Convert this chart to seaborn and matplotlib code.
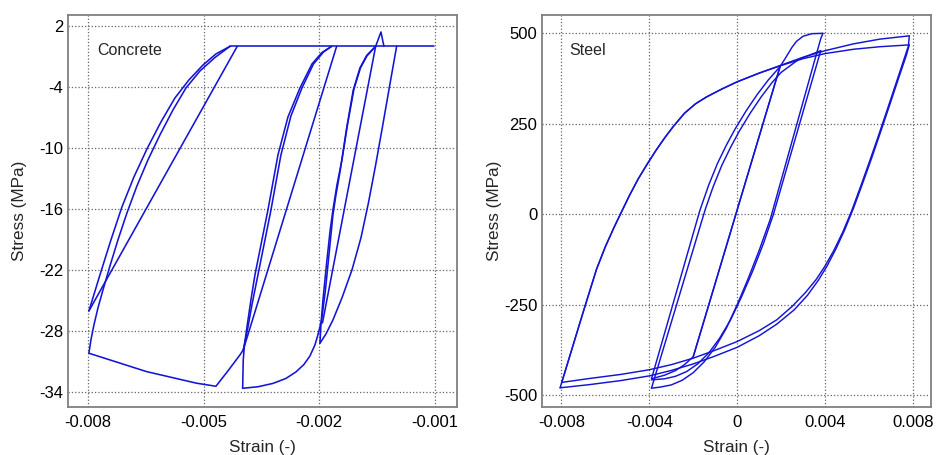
import numpy as np
import pandas as pd
import seaborn as sns
import matplotlib.pyplot as plt

# ---- concrete strokes (strain, stress MPa) ----
top_line = [(-0.005135, 0.0), (-0.00102, 0.0)]
spike = [(-0.002196, 0.0), (-0.002089, 1.41), (-0.002029, 0.0)]
c1 = [(-0.007980, -26.03), (-0.007758, -22.49), (-0.007536, -19.05), (-0.007314, -15.80),
      (-0.007072, -12.85), (-0.00681, -10.10), (-0.006527, -7.44), (-0.006245, -5.08),
      (-0.005963, -3.31), (-0.00568, -1.84), (-0.005418, -0.75), (-0.005135, 0.0)]
c2 = [(-0.007980, -30.19), (-0.00794, -28.89), (-0.007879, -27.41), (-0.007798, -25.74),
      (-0.007697, -23.97), (-0.007556, -21.61), (-0.007395, -19.05), (-0.007213, -16.39),
      (-0.007012, -13.74), (-0.00679, -11.18), (-0.006548, -8.72), (-0.006285, -6.26),
      (-0.006023, -4.10), (-0.005741, -2.43), (-0.005438, -1.10), (-0.005135, 0.0)]
s1 = [(-0.004988, 0.0), (-0.007980, -26.03)]
b1 = [(-0.007980, -30.19), (-0.006816, -32.00), (-0.005807, -33.14), (-0.005418, -33.44),
      (-0.005176, -31.93), (-0.004934, -30.36), (-0.004867, -29.87)]
d1 = [(-0.004867, -29.87), (-0.004782, -27.90), (-0.004692, -25.44), (-0.004591, -22.98),
      (-0.004429, -19.05), (-0.004308, -16.10), (-0.004107, -10.69), (-0.003905, -6.85),
      (-0.003683, -4.10), (-0.003451, -1.74), (-0.003249, -0.56), (-0.003084, 0.0)]
d2 = [(-0.004879, -33.64), (-0.004867, -30.85), (-0.004843, -29.38), (-0.004792, -27.61),
      (-0.004712, -24.95), (-0.004631, -22.49), (-0.00449, -19.05), (-0.004369, -16.10),
      (-0.004167, -10.69), (-0.003965, -6.95), (-0.003723, -4.10), (-0.003481, -1.74),
      (-0.00328, -0.61), (-0.003084, 0.0)]
s2 = [(-0.002983, 0.0), (-0.004867, -29.87)]
b2 = [(-0.004879, -33.64), (-0.004571, -33.49), (-0.004268, -33.16), (-0.004006, -32.67),
      (-0.003804, -32.03), (-0.003643, -31.30), (-0.003522, -30.46), (-0.003421, -29.38),
      (-0.00335, -28.20), (-0.003286, -26.92), (-0.003209, -23.97), (-0.003128, -20.03),
      (-0.003058, -16.59), (-0.002997, -14.62), (-0.002916, -12.36), (-0.002781, -8.03),
      (-0.002648, -4.30), (-0.002513, -2.13), (-0.002378, -0.90), (-0.002196, 0.0)]
e1 = [(-0.00332, -29.21), (-0.0033, -27.41), (-0.003259, -24.95), (-0.003189, -21.51),
      (-0.003118, -18.26), (-0.003058, -16.10), (-0.002977, -13.64), (-0.002876, -11.18),
      (-0.002765, -7.74), (-0.002634, -4.20), (-0.002503, -2.13), (-0.002372, -0.95),
      (-0.002196, 0.0)]
s3 = [(-0.002196, 0.0), (-0.003269, -27.21)]
f3 = [(-0.001773, 0.0), (-0.001918, -4.0), (-0.002059, -7.93), (-0.0022, -11.77),
      (-0.002342, -15.41), (-0.002493, -18.85), (-0.002674, -22.0), (-0.002876, -24.75),
      (-0.003058, -26.92), (-0.003199, -28.30), (-0.00332, -29.21)]

# ---- steel strokes (strain, stress MPa) ----
elastic = [(-0.00200, -394), (0.00195, 408)]
comp_yield = [(-0.00200, -394), (-0.0024, -416), (-0.0028, -432), (-0.0033, -445), (-0.0039, -455)]
mu1 = [(-0.0039, -455), (-0.0017, 10), (-0.0013, 80), (-0.0009, 140), (-0.0005, 190),
       (-0.0001, 235), (0.0004, 285), (0.0009, 330), (0.0014, 370), (0.00195, 408),
       (0.0022, 432), (0.0025, 462), (0.0027, 478), (0.0030, 492), (0.0034, 499), (0.0039, 500)]
mu2 = [(-0.0039, -481), (-0.00146, 12), (-0.0011, 75), (-0.0007, 135), (-0.0003, 185),
       (0.0001, 230), (0.0006, 280), (0.0011, 325), (0.0016, 365), (0.002, 392),
       (0.0028, 428), (0.0038, 452)]
ml1 = [(0.0039, 500), (0.0038, 485), (0.0015, -15), (0.001, -100), (0.0005, -178),
       (0.0, -250), (-0.0005, -316), (-0.001, -368), (-0.0015, -408), (-0.002, -438),
       (-0.0025, -459), (-0.003, -472), (-0.0035, -478), (-0.0039, -481)]
ml2 = [(0.0038, 452), (0.00165, 0), (0.0012, -80), (0.0007, -158), (0.0002, -228),
       (-0.0003, -292), (-0.0008, -343), (-0.0013, -384), (-0.0018, -414), (-0.0023, -435),
       (-0.0028, -448), (-0.0033, -455), (-0.0039, -458)]
ua = [(-0.00806, -480), (-0.0070, -269), (-0.0064, -152), (-0.0060, -90), (-0.0056, -36),
      (-0.0053, 2), (-0.0049, 52), (-0.0045, 98), (-0.0041, 138), (-0.0037, 176),
      (-0.0033, 211), (-0.0029, 243), (-0.0024, 279), (-0.0019, 305), (-0.0014, 324),
      (-0.0007, 346), (0.0, 366), (0.001, 390), (0.002, 412), (0.003, 434), (0.004, 452),
      (0.0053, 471), (0.0065, 484), (0.00783, 493)]
ub = [(-0.00798, -465), (-0.0070, -269), (-0.0064, -152), (-0.0060, -90), (-0.0056, -36),
      (-0.0053, 2), (-0.0049, 52), (-0.0045, 98), (-0.0041, 138), (-0.0037, 176),
      (-0.0033, 211), (-0.0029, 243), (-0.0024, 279), (-0.0019, 305), (-0.0014, 324),
      (-0.0007, 346), (0.0, 366), (0.001, 390), (0.002, 411), (0.003, 430), (0.004, 444),
      (0.0053, 456), (0.0065, 463), (0.00783, 468)]
la = [(0.00783, 493), (0.00779, 465), (0.0076, 430), (0.0072, 357), (0.0068, 284),
      (0.0064, 212), (0.0060, 142), (0.0056, 74), (0.0052, 8), (0.0048, -50), (0.0044, -100),
      (0.0040, -143), (0.0036, -180), (0.0031, -217), (0.0025, -255), (0.0018, -292),
      (0.0010, -322), (0.0, -352), (-0.001, -376), (-0.002, -398), (-0.003, -416),
      (-0.004, -430), (-0.0053, -443), (-0.0067, -454), (-0.00798, -465)]
lb = [(0.00783, 468), (0.0077, 440), (0.0073, 368), (0.0069, 295), (0.0065, 223),
      (0.0061, 152), (0.0057, 84), (0.0053, 18), (0.0049, -42), (0.0045, -95), (0.0041, -142),
      (0.0037, -182), (0.0032, -224), (0.0026, -264), (0.0018, -304), (0.001, -336),
      (0.0, -368), (-0.001, -392), (-0.002, -414), (-0.003, -432), (-0.004, -447),
      (-0.0053, -460), (-0.0067, -471), (-0.00806, -480)]

conc_xticks = [-0.008, -0.005667, -0.003333, -0.001]
conc_xlabels = ['-0.008', '-0.005', '-0.002', '-0.001']
conc_yticks = [2, -4, -10, -16, -22, -28, -34]
steel_xticks = [-0.008, -0.004, 0, 0.004, 0.008]
steel_xlabels = ['-0.008', '-0.004', '0', '0.004', '0.008']
steel_yticks = [500, 250, 0, -250, -500]


def to_frame(strokes):
    rows = []
    for name, pts in strokes.items():
        for i, (x, y) in enumerate(pts):
            rows.append((name, i, x, y))
    return pd.DataFrame(rows, columns=['seg', 'i', 'strain', 'stress'])


conc = to_frame(dict(top=top_line, spike=spike, c1=c1, c2=c2, s1=s1, b1=b1, d1=d1, d2=d2,
                     s2=s2, b2=b2, e1=e1, s3=s3, f3=f3))
steel = to_frame(dict(el=elastic, el2=elastic, cy=comp_yield, mu1=mu1, mu2=mu2, ml1=ml1,
                      ml2=ml2, ua=ua, ub=ub, la=la, lb=lb))

sns.set_theme(style='white')
plt.rcParams['font.family'] = ['Liberation Sans', 'DejaVu Sans']

blue = '#1414d6'
fig = plt.figure(figsize=(9.36, 4.55), dpi=100)
ax1 = fig.add_axes([0.0726, 0.1055, 0.4156, 0.8615])
ax2 = fig.add_axes([0.5791, 0.1055, 0.4156, 0.8615])

sns.lineplot(data=conc, x='strain', y='stress', units='seg', estimator=None, sort=False,
             color=blue, lw=1.15, ax=ax1)
sns.lineplot(data=steel, x='strain', y='stress', units='seg', estimator=None, sort=False,
             color=blue, lw=1.05, ax=ax2)

ax1.set_xlim(-0.008403, -0.000556)
ax1.set_ylim(-35.48, 3.08)
ax1.set_xticks(conc_xticks)
ax1.set_xticklabels(conc_xlabels)
ax1.set_yticks(conc_yticks)
ax1.set_yticklabels([str(v) for v in conc_yticks])
ax1.text(0.0745, 0.909, 'Concrete', transform=ax1.transAxes, fontsize=11.5, va='center')

ax2.set_xlim(-0.00888, 0.00882)
ax2.set_ylim(-533, 550.6)
ax2.set_xticks(steel_xticks)
ax2.set_xticklabels(steel_xlabels)
ax2.set_yticks(steel_yticks)
ax2.set_yticklabels([str(v) for v in steel_yticks])
ax2.text(0.071, 0.909, 'Steel', transform=ax2.transAxes, fontsize=11.5, va='center')

for ax in (ax1, ax2):
    ax.set_xlabel('Strain (-)', fontsize=12.3)
    ax.set_ylabel('Stress (MPa)', fontsize=12.3)
    ax.xaxis.set_label_coords(0.5, -0.085)
    ax.yaxis.set_label_coords(-0.104, 0.5)
    ax.grid(True, ls=':', color='#666666', lw=0.9)
    ax.tick_params(direction='in', length=3, width=0.8, colors='#555555',
                   labelcolor='black', labelsize=12)
    ax.tick_params(axis='x', pad=5.5)
    ax.tick_params(axis='y', pad=3.5)
    for sp in ax.spines.values():
        sp.set_color('#808080')
        sp.set_linewidth(1.3)

fig.savefig('out.png', dpi=100)
